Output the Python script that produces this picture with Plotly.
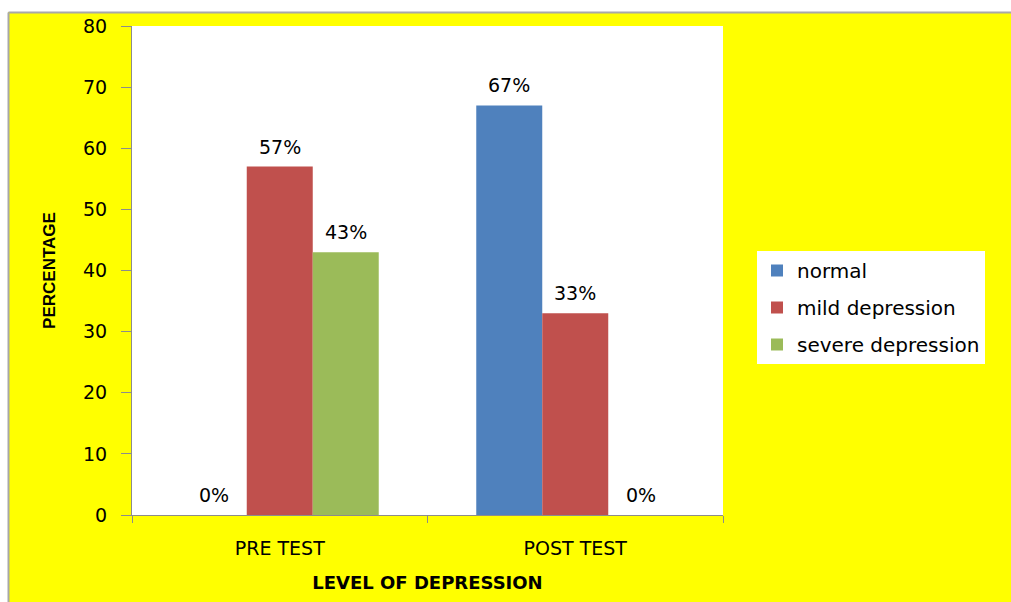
import plotly.graph_objects as go

categories = ["PRE TEST", "POST TEST"]
series_names = ["normal", "mild depression", "severe depression"]
normal = [0, 67]
mild = [57, 33]
severe = [43, 0]
series_values = [normal, mild, severe]
colors = ["#4F81BD", "#C0504D", "#9BBB59"]
y_ticks = [0, 10, 20, 30, 40, 50, 60, 70, 80]

W, H = 1011, 602
PL, PR, PT, PB = 132, 723, 26, 515  # plot area pixels
pw, ph = PR - PL, PB - PT

def px(x):
    return (x - PL) / pw

def py(y):
    return (PB - y) / ph

BARGAP = 0.33
fig = go.Figure()
for name, vals, col in zip(series_names, series_values, colors):
    fig.add_trace(go.Bar(
        x=categories, y=vals, name=name, marker=dict(color=col, line=dict(width=0)),
        legendgroup=name,
    ))

# data labels above bars
n = len(series_names)
w = (1 - BARGAP) / n
for i, vals in enumerate(series_values):
    for j, v in enumerate(vals):
        fig.add_annotation(
            x=j + (i - (n - 1) / 2) * w, y=v, xref="x", yref="y",
            text=f"{v}%", showarrow=False, yanchor="bottom", yshift=7,
            font=dict(family="DejaVu Sans", size=19, color="#000000"),
        )

LINE = "#8C8C8C"
shapes = [
    dict(type="rect", xref="paper", yref="paper", x0=px(-20), x1=px(8), y0=py(640), y1=py(-20),
         fillcolor="white", line=dict(width=0), layer="below"),
    dict(type="rect", xref="paper", yref="paper", x0=px(-20), x1=px(1040), y0=py(12), y1=py(-20),
         fillcolor="white", line=dict(width=0), layer="below"),
    dict(type="line", xref="paper", yref="paper", x0=px(8.5), x1=px(8.5), y0=py(640), y1=py(12.5),
         line=dict(color="#A8A8A8", width=2), layer="below"),
    dict(type="line", xref="paper", yref="paper", x0=px(8.5), x1=px(1040), y0=py(12.5), y1=py(12.5),
         line=dict(color="#A8A8A8", width=2), layer="below"),
]

fig.update_layout(
    width=W, height=H,
    margin=dict(l=PL, r=W - PR, t=PT, b=H - PB, autoexpand=False),
    paper_bgcolor="#FFFF00", plot_bgcolor="#FFFFFF",
    barmode="group", bargap=BARGAP, bargroupgap=0,
    shapes=shapes,
    showlegend=True,
    legend=dict(
        x=px(757), y=py(251), xanchor="left", yanchor="top",
        bgcolor="#FFFFFF", borderwidth=0, tracegroupgap=8,
        font=dict(family="DejaVu Sans", size=20, color="#000000"),
        traceorder="grouped",
    ),
    xaxis=dict(
        showline=True, linecolor=LINE, linewidth=1, showgrid=False,
        ticks="outside", ticklen=7, tickcolor=LINE, tickson="boundaries",
        tickfont=dict(family="DejaVu Sans", size=19, color="#000000"),
        ticklabelstandoff=16,
        title=dict(text="LEVEL OF DEPRESSION", standoff=18,
                   font=dict(family="DejaVu Sans", size=18, color="#000000", weight="bold")),
    ),
    yaxis=dict(
        range=[0, 80], tickvals=y_ticks, showline=True, linecolor=LINE, linewidth=1,
        showgrid=False, zeroline=False,
        ticks="outside", ticklen=10, tickcolor=LINE,
        tickfont=dict(family="DejaVu Sans", size=19, color="#000000"),
        ticklabelstandoff=10,
        title=dict(text="PERCENTAGE", standoff=23,
                   font=dict(family="Liberation Sans", size=17,
                             color="#000000", weight="bold")),
    ),
)

fig.write_html("out.html")
